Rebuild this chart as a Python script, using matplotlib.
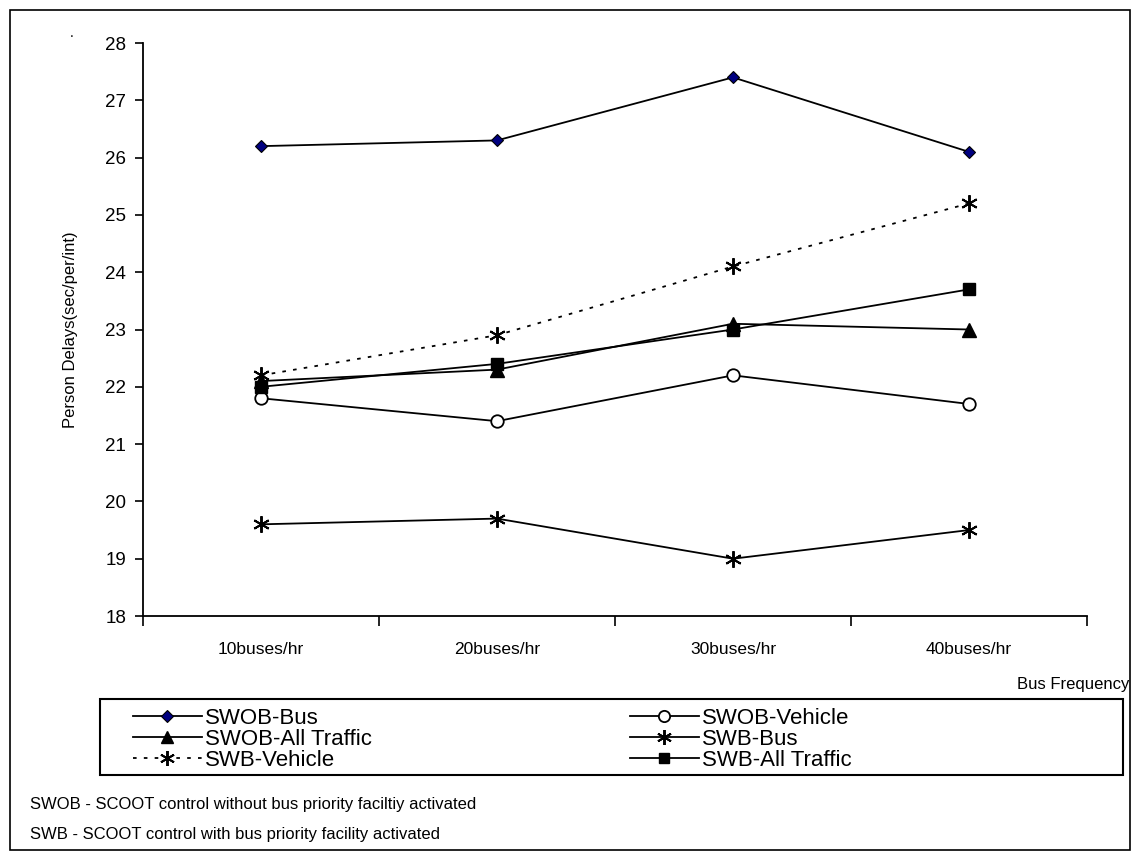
import matplotlib
matplotlib.use("Agg")
import matplotlib.pyplot as plt
from matplotlib.patches import Rectangle

plt.rcParams['font.family'] = ['Liberation Sans', 'DejaVu Sans']

# data
categories = ['10buses/hr', '20buses/hr', '30buses/hr', '40buses/hr']
swob_bus = [26.2, 26.3, 27.4, 26.1]
swob_vehicle = [21.8, 21.4, 22.2, 21.7]
swob_all = [22.1, 22.3, 23.1, 23.0]
swb_bus = [19.6, 19.7, 19.0, 19.5]
swb_vehicle = [22.2, 22.9, 24.1, 25.2]
swb_all = [22.0, 22.4, 23.0, 23.7]
y_ticks = [18, 19, 20, 21, 22, 23, 24, 25, 26, 27, 28]

W, H = 1138, 860
fig = plt.figure(figsize=(W / 100, H / 100), dpi=100)
ax = fig.add_axes([143/W, 1 - 616/H, (1087 - 143)/W, (616 - 43)/H])

x = list(range(1, len(categories) + 1))
star = (6, 2, 0)
lw = 1.3

ax.plot(x, swob_bus, '-', color='black', lw=lw, marker='D', ms=6.5,
        mfc='#000080', mec='black', mew=0.8, label='SWOB-Bus')
ax.plot(x, swob_vehicle, '-', color='black', lw=lw, marker='o', ms=9,
        mfc='white', mec='black', mew=1.3, label='SWOB-Vehicle')
ax.plot(x, swob_all, '-', color='black', lw=lw, marker='^', ms=10,
        mfc='black', mec='black', label='SWOB-All Traffic')
ax.plot(x, swb_bus, '-', color='black', lw=lw, marker=star, ms=12,
        mec='black', mew=1.4, label='SWB-Bus')
ax.plot(x, swb_vehicle, color='black', lw=lw, ls=(0, (2, 4)), marker=star, ms=12,
        mec='black', mew=1.4, label='SWB-Vehicle')
ax.plot(x, swb_all, '-', color='black', lw=lw, marker='s', ms=8,
        mfc='black', mec='black', label='SWB-All Traffic')

ax.set_xlim(0.5, len(categories) + 0.5)
ax.set_ylim(18, 28)
ax.set_yticks(y_ticks)
ax.set_xticks([i + 0.5 for i in range(len(categories) + 1)])
ax.set_xticklabels([])
ax.set_xticks(x, minor=True)
ax.set_xticklabels(categories, minor=True)
ax.tick_params(axis='x', which='major', direction='out', length=7, width=1.2)
ax.tick_params(axis='x', which='minor', length=0, pad=19, labelsize=12.5)
ax.tick_params(axis='y', direction='out', length=6, width=1.2, labelsize=13.5, pad=6)
for s in ['top', 'right']:
    ax.spines[s].set_visible(False)
for s in ['left', 'bottom']:
    ax.spines[s].set_linewidth(1.3)

ax.set_ylabel('Person Delays(sec/per/int)', fontsize=12, labelpad=20)
fig.text(1129/W, 1 - 684/H, 'Bus Frequency', ha='right', va='center', fontsize=12)
fig.text(72/W, 1 - 33/H, '.', ha='center', va='center', fontsize=10)

# legend without its own frame, frame drawn separately
h, l = ax.get_legend_handles_labels()
order = [0, 2, 4, 1, 3, 5]
leg = fig.legend([h[i] for i in order], [l[i] for i in order], ncol=2,
                 loc='upper left', bbox_to_anchor=(133/W, 1 - 708/H),
                 fontsize=16, handlelength=3.1, handletextpad=0.15, labelspacing=0.0,
                 borderaxespad=0, borderpad=0, frameon=False, markerscale=0.9,
                 columnspacing=11.6)
fig.patches.append(Rectangle((100/W, 1 - 775/H), (1123 - 100)/W, 76/H, transform=fig.transFigure,
                             fill=False, edgecolor='black', lw=1.5))

fig.text(30/W, 1 - 805/H, 'SWOB - SCOOT control without bus priority faciltiy activated',
         ha='left', va='center', fontsize=12)
fig.text(30/W, 1 - 835/H, 'SWB - SCOOT control with bus priority facility activated',
         ha='left', va='center', fontsize=12)

fig.patches.append(Rectangle((10/W, 10/H), 1120/W, 840/H, transform=fig.transFigure,
                             fill=False, edgecolor='black', lw=1.2))

fig.savefig('out.png', dpi=100)
